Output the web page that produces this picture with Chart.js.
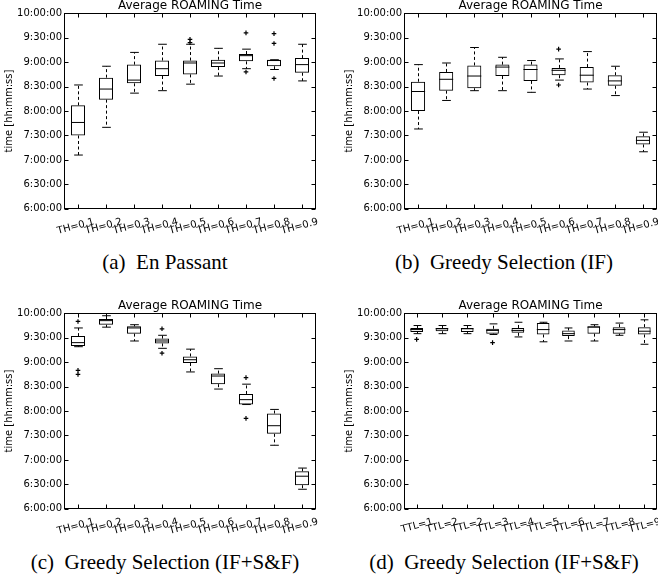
<!DOCTYPE html>
<html><head><meta charset="utf-8">
<script src="https://cdn.jsdelivr.net/npm/chart.js@4/dist/chart.umd.min.js"></script>
<style>
html,body{margin:0;padding:0;width:658px;height:581px;overflow:hidden;background:#fff;}
canvas{position:absolute;}
.cap{position:absolute;font-family:'Liberation Serif','Times New Roman',serif;font-size:21px;color:#000;white-space:nowrap;transform:translate(-50%,-50%);}
</style></head><body>
<canvas id="ca" width="329" height="244" style="left:0;top:0"></canvas>
<canvas id="cb" width="330" height="244" style="left:340px;top:0"></canvas>
<canvas id="cc" width="329" height="244" style="left:0;top:300px"></canvas>
<canvas id="cd" width="330" height="244" style="left:340px;top:300px"></canvas>
<div class="cap" style="left:165px;top:262px">(a)&ensp;En Passant</div>
<div class="cap" style="left:504px;top:262px">(b)&ensp;Greedy Selection (IF)</div>
<div class="cap" style="left:165px;top:562px">(c)&ensp;Greedy Selection (IF+S&amp;F)</div>
<div class="cap" style="left:504px;top:562px">(d)&ensp;Greedy Selection (IF+S&amp;F)</div>
<script>
// ---------- data ----------
const chartTitle = 'Average ROAMING Time';
const yAxisTitle = 'time [hh:mm:ss]';
const timeTickLabels = ['6:00:00','6:30:00','7:00:00','7:30:00','8:00:00','8:30:00','9:00:00','9:30:00','10:00:00'];
const thLabels = ['TH=0.1','TH=0.2','TH=0.3','TH=0.4','TH=0.5','TH=0.6','TH=0.7','TH=0.8','TH=0.9'];
const ttlLabels = ['TTL=1','TTL=2','TTL=2','TTL=3','TTL=4','TTL=5','TTL=6','TTL=7','TTL=8','TTL=9'];

// (a) En Passant
const aLow  = ['7:06','7:40','8:22','8:25','8:33','8:43','8:52','8:51','8:37'];
const aQ1   = ['7:30','8:14','8:34','8:43','8:45','8:54','9:01','8:55','8:47'];
const aMed  = ['7:46','8:27','8:38','8:52','8:59','8:59','9:08','9:02','8:57'];
const aQ3   = ['8:07','8:41','8:57','9:02','9:02','9:03','9:10','9:03','9:05'];
const aHigh = ['8:32','8:55','9:12','9:22','9:22','9:17','9:16','9:03','9:22'];
const aOut  = [[],[],[],[],['9:24','9:28'],[],['9:36','8:48'],['9:35','9:23','8:40'],[]];

// (b) Greedy Selection (IF)
const bLow  = ['7:38','8:13','8:25','8:25','8:23','8:38','8:27','8:19','7:10'];
const bQ1   = ['8:00','8:25','8:28','8:43','8:37','8:44','8:35','8:31','7:19'];
const bMed  = ['8:24','8:39','8:43','8:54','8:51','8:50','8:44','8:37','7:24'];
const bQ3   = ['8:36','8:48','8:56','8:57','8:57','8:53','8:54','8:44','7:29'];
const bHigh = ['8:57','8:59','9:18','9:06','9:02','9:04','9:13','8:55','7:34'];
const bOut  = [[],[],[],[],[],['9:16','8:32'],[],[],[]];

// (c) Greedy Selection (IF+S&F), TH
const cLow  = ['9:19','9:43','9:26','9:17','8:48','8:27','8:08','7:18','6:24'];
const cQ1   = ['9:20','9:46','9:35','9:23','8:59','8:33','8:08','7:32','6:29'];
const cMed  = ['9:24','9:51','9:42','9:26','9:03','8:43','8:14','7:42','6:40'];
const cQ3   = ['9:32','9:53','9:44','9:29','9:07','8:46','8:21','7:57','6:46'];
const cHigh = ['9:42','9:57','9:46','9:33','9:16','8:52','8:33','8:02','6:50'];
const cOut  = [['9:50','8:50','8:45'],[],[],['9:41','9:11'],[],[],['8:41','7:51'],[],[]];

// (d) Greedy Selection (IF+S&F), TTL
const dLow  = ['9:35','9:35','9:35','9:34','9:31','9:25','9:26','9:26','9:33','9:22'];
const dQ1   = ['9:37','9:38','9:37','9:35','9:36','9:34','9:32','9:35','9:35','9:34'];
const dMed  = ['9:40','9:41','9:41','9:39','9:39','9:40','9:35','9:43','9:40','9:38'];
const dQ3   = ['9:42','9:42','9:42','9:41','9:42','9:48','9:39','9:44','9:43','9:43'];
const dHigh = ['9:45','9:45','9:45','9:47','9:49','9:49','9:42','9:46','9:48','9:52'];
const dOut  = [['9:28'],[],[],['9:24'],[],[],[],[],[],[]];

// ---------- helpers ----------
function toH(s){const p=s.split(':').map(Number);return p[0]+p[1]/60;}

Chart.defaults.font.family = "'DejaVu Sans', sans-serif";
Chart.defaults.font.size = 10;
Chart.defaults.color = '#000';

function boxPlugin(p){
  return {id:'boxparts', afterDatasetsDraw(chart){
    const ctx=chart.ctx, ys=chart.scales.y, meta=chart.getDatasetMeta(0);
    ctx.save(); ctx.strokeStyle='#000'; ctx.lineWidth=1;
    const line=(x1,y1,x2,y2)=>{ctx.beginPath();ctx.moveTo(x1,y1);ctx.lineTo(x2,y2);ctx.stroke();};
    p.q1.forEach((_,i)=>{
      const bar=meta.data[i]; const hw=bar.width/2; const cw=hw*0.62;
      const x=Math.round(bar.x)+0.5;
      const yLo=ys.getPixelForValue(toH(p.lo[i])), yQ1=ys.getPixelForValue(toH(p.q1[i]));
      const yMed=ys.getPixelForValue(toH(p.med[i])), yQ3=ys.getPixelForValue(toH(p.q3[i]));
      const yHi=ys.getPixelForValue(toH(p.hi[i]));
      ctx.setLineDash([3,2.5]);
      line(x,yQ3,x,yHi); line(x,yQ1,x,yLo);
      ctx.setLineDash([]);
      line(x-cw,yHi,x+cw,yHi); line(x-cw,yLo,x+cw,yLo);
      line(bar.x-hw,yMed,bar.x+hw,yMed);
    });
    ctx.restore();
  }};
}
const framePlugin = {id:'frame', afterDraw(chart){
  const {ctx, chartArea:a, scales} = chart;
  ctx.save(); ctx.strokeStyle='#000'; ctx.lineWidth=1;
  const L=Math.round(a.left)+0.5, R=Math.round(a.right)-0.5, T=Math.round(a.top)+0.5, B=Math.round(a.bottom)-0.5;
  ctx.strokeRect(L,T,R-L,B-T);
  ctx.beginPath();
  scales.y.ticks.forEach(t=>{const y=Math.round(scales.y.getPixelForValue(t.value))+0.5;
    ctx.moveTo(L,y);ctx.lineTo(L+4,y);ctx.moveTo(R,y);ctx.lineTo(R-4,y);});
  scales.x.ticks.forEach((t,i)=>{const x=Math.round(scales.x.getPixelForTick(i))+0.5;
    ctx.moveTo(x,B);ctx.lineTo(x,B-4);ctx.moveTo(x,T);ctx.lineTo(x,T+4);});
  ctx.stroke(); ctx.restore();
}};

function makeChart(id, labels, lo, q1, med, q3, hi, out){
  const p={lo,q1,med,q3,hi};
  const outPts=[]; out.forEach((arr,i)=>arr.forEach(v=>outPts.push({x:labels[i],y:toH(v)})));
  new Chart(document.getElementById(id), {
    type:'bar',
    data:{labels, datasets:[
      {type:'bar', data:q1.map((v,i)=>[toH(v),toH(q3[i])]), backgroundColor:'rgba(255,255,255,0)',
       borderColor:'#000', borderWidth:1, borderSkipped:false, barPercentage:0.5, categoryPercentage:1},
      {type:'scatter', data:outPts, pointStyle:'crossRot', rotation:45, radius:2.3, borderColor:'#000', borderWidth:1.2, backgroundColor:'#000'}
    ]},
    options:{
      responsive:false, animation:false,
      layout:{padding:{left:0,right:13,top:0,bottom:0}},
      plugins:{legend:{display:false}, tooltip:{enabled:false}, title:{display:false}},
      scales:{
        x:{type:'category', offset:true, grid:{display:false, drawTicks:false}, border:{display:false},
           ticks:{autoSkip:false, minRotation:15, maxRotation:15, padding:7, labelOffset:16, font:{size:10}},
           afterFit(s){s.height=35.2;}},
        xTop:{type:'category', position:'top', labels, offset:true, grid:{display:false, drawTicks:false}, border:{display:false},
           ticks:{display:false}, title:{display:true, text:chartTitle, font:{size:12}, padding:{top:-1,bottom:0}},
           afterFit(s){s.height=13.3;}},
        y:{type:'linear', min:6, max:10, grid:{display:false, drawTicks:false}, border:{display:false},
           ticks:{stepSize:0.5, padding:2, font:{size:10}, callback:(v)=>timeTickLabels[Math.round((v-6)/0.5)]},
           title:{display:true, text:yAxisTitle, font:{size:10}, padding:{top:3,bottom:0}},
           afterFit(s){s.width=64;}}
      }
    },
    plugins:[boxPlugin(p), framePlugin]
  });
}
makeChart('ca', thLabels, aLow, aQ1, aMed, aQ3, aHigh, aOut);
makeChart('cb', thLabels, bLow, bQ1, bMed, bQ3, bHigh, bOut);
makeChart('cc', thLabels, cLow, cQ1, cMed, cQ3, cHigh, cOut);
makeChart('cd', ttlLabels, dLow, dQ1, dMed, dQ3, dHigh, dOut);
</script>
</body></html>
